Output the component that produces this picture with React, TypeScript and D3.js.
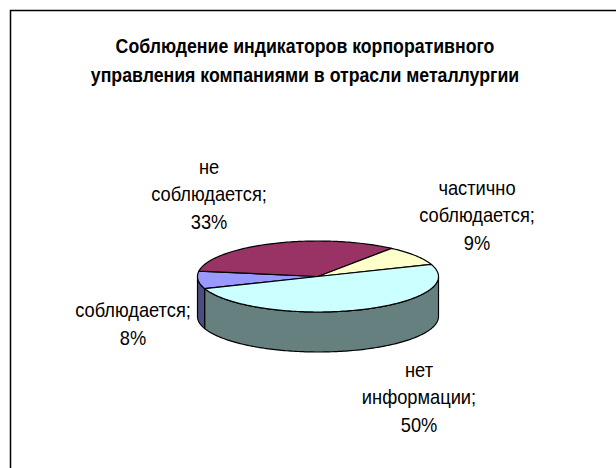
import React from "react";
import * as d3 from "d3";

const categories = ["соблюдается", "не соблюдается", "частично соблюдается", "нет информации"];
const values = [8, 33, 9, 50];
const labelLines = [
  ["соблюдается;", "8%"],
  ["не", "соблюдается;", "33%"],
  ["частично", "соблюдается;", "9%"],
  ["нет", "информации;", "50%"],
];
const topColors = ["#9999FF", "#993366", "#FFFFCC", "#CCFFFF"];
const sideColors = ["#4C4C80", "#4D1A33", "#808066", "#668080"];
const titleLines = [
  "Соблюдение индикаторов корпоративного",
  "управления компаниями в отрасли металлургии",
];

const W = 616;
const H = 468;
const cx = 318;
const cy = 276.5;
const rx = 120.5;
const ry = 35.5;
const depth = 40;
const startDeg = 250;
const labelPos = [
  [133, 311.5],
  [209, 168],
  [477, 189],
  [419, 371],
];
const lineStep = 27.5;

function pt(theta: number, dy = 0): [number, number] {
  return [cx + rx * Math.sin(theta), cy - ry * Math.cos(theta) + dy];
}

function arcPoints(a0: number, a1: number, dy = 0): [number, number][] {
  const n = Math.max(2, Math.ceil(Math.abs(a1 - a0) / 0.02));
  const pts: [number, number][] = [];
  for (let i = 0; i <= n; i++) pts.push(pt(a0 + ((a1 - a0) * i) / n, dy));
  return pts;
}

export default function App() {
  const start = (startDeg * Math.PI) / 180;
  const pie = d3
    .pie<number>()
    .sort(null)
    .startAngle(start)
    .endAngle(start + 2 * Math.PI);
  const arcs = pie(values);
  const line = d3.line();

  const sides: JSX.Element[] = [];
  const tops: JSX.Element[] = [];
  arcs.forEach((a, i) => {
    for (const k of [0, 1]) {
      const lo = Math.PI / 2 + k * 2 * Math.PI;
      const hi = (3 * Math.PI) / 2 + k * 2 * Math.PI;
      const s = Math.max(a.startAngle, lo);
      const e = Math.min(a.endAngle, hi);
      if (e > s) {
        const topArc = arcPoints(s, e);
        const botArc = arcPoints(e, s, depth);
        sides.push(
          <path
            key={`s${i}${k}`}
            d={line([...topArc, ...botArc])! + "Z"}
            fill={sideColors[i]}
            stroke="#000"
            strokeWidth={1.2}
            strokeLinejoin="round"
          />
        );
      }
    }
    const pts = [[cx, cy] as [number, number], ...arcPoints(a.startAngle, a.endAngle)];
    tops.push(
      <path
        key={`t${i}`}
        d={line(pts)! + "Z"}
        fill={topColors[i]}
        stroke="#000"
        strokeWidth={1.2}
        strokeLinejoin="round"
      />
    );
  });

  const font = "'Liberation Sans', Arial, sans-serif";

  return (
    <svg width={W} height={H} style={{ position: "absolute", left: 0, top: 0 }}>
      <rect x={0} y={0} width={W} height={H} fill="#fff" />
      <rect x={10.5} y={10.5} width={W + 10} height={H + 10} fill="#fff" stroke="#000" strokeWidth={1.5} />
      {titleLines.map((t, i) => (
        <text
          key={t}
          transform={`translate(305,${53 + i * 29}) scale(0.885,1)`}
          textAnchor="middle"
          fontFamily={font}
          fontWeight="bold"
          fontSize={20}
          fill="#000"
        >
          {t}
        </text>
      ))}
      {sides}
      {tops}
      {labelLines.map((ls, i) =>
        ls.map((t, j) => (
          <text
            key={`${i}-${j}`}
            transform={`translate(${labelPos[i][0]},${labelPos[i][1] + j * lineStep}) scale(0.87,1)`}
            textAnchor="middle"
            dominantBaseline="middle"
            fontFamily={font}
            fontSize={21}
            fill="#000"
          >
            {t}
          </text>
        ))
      )}
    </svg>
  );
}
